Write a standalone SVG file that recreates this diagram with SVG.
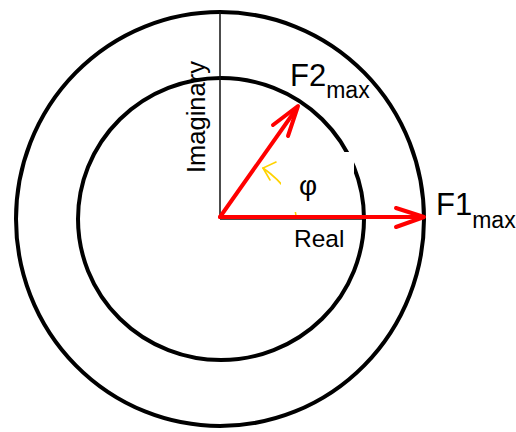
<svg xmlns="http://www.w3.org/2000/svg" width="516" height="432" viewBox="0 0 516 432">
<style>
.circ{fill:none;stroke:#000;stroke-width:4}
.axis{stroke:#111;stroke-width:1.5;fill:none}
.vec{stroke:#ff0000;stroke-width:4;fill:none;stroke-linecap:round;stroke-linejoin:round}
.ang{stroke:#ffd200;stroke-width:1.6;fill:none;stroke-linecap:round}
text{font-family:"Liberation Sans",Arial,sans-serif;fill:#000}
</style>
<rect width="516" height="432" fill="#fff"/>
<g id="outer-circle"><ellipse class="circ" cx="220" cy="219" rx="204" ry="207"/></g>
<g id="inner-circle"><ellipse class="circ" cx="221" cy="219" rx="143" ry="141"/></g>
<g id="axes">
<line class="axis" x1="220" y1="12" x2="220" y2="219"/>
<line class="axis" x1="220" y1="219" x2="365" y2="219"/>
</g>
<g id="angle">
<path class="ang" d="M296,216 Q294,190 263,168"/>
<polyline class="ang" points="276,162 263,168 270,180"/>
</g>
<rect x="281" y="152" width="73" height="60" fill="#fff"/>
<g id="connectors">
<line class="vec" x1="220" y1="217" x2="423" y2="217"/>
<polyline class="vec" points="396,208 424,217 396,227"/>
<line class="vec" x1="220" y1="217" x2="297" y2="108"/>
<polyline class="vec" points="273,125 298,106 288,136"/>
</g>
<g id="labels">
<text x="299" y="195" font-size="28">φ</text>
<text x="294" y="247" font-size="24.5">Real</text>
<text transform="translate(205,173) rotate(-90)" font-size="25.5">Imaginary</text>
<text x="290" y="86" font-size="31">F2<tspan font-size="23" dy="12">max</tspan></text>
<text x="436" y="215" font-size="31">F1<tspan font-size="23" dy="13">max</tspan></text>
</g>
</svg>
